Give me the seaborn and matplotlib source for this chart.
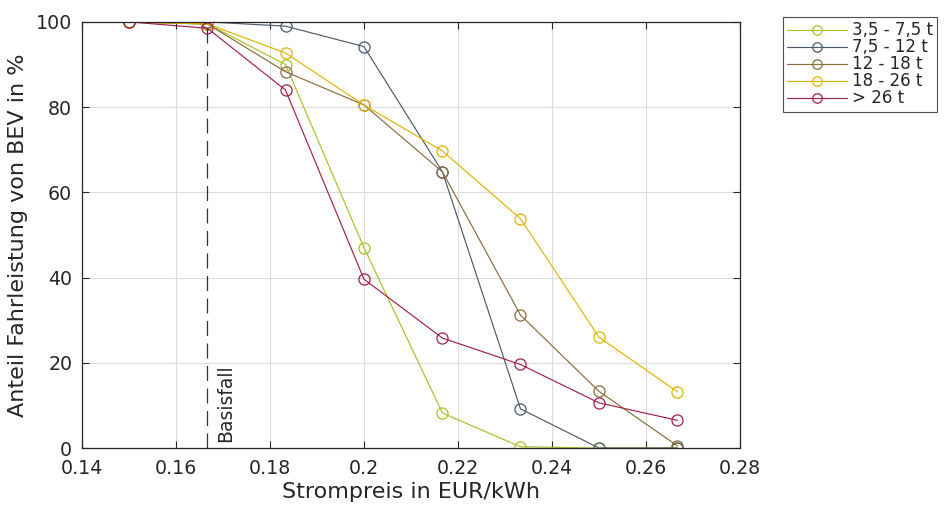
import numpy as np
import pandas as pd
import matplotlib
matplotlib.use("Agg")
import matplotlib.pyplot as plt
import matplotlib.transforms as mtransforms
import seaborn as sns

# Electricity price steps (EUR/kWh)
strompreis = [0.15, 0.1667, 0.1833, 0.2, 0.2167, 0.2333, 0.25, 0.2667]

# Share of BEV mileage per weight class (%)
klasse_3_5 = [100, 99.5, 90.0, 47.0, 8.2, 0.3, 0.0, 0.0]
klasse_7_5 = [100, 100, 99.0, 94.2, 64.8, 9.2, 0.0, 0.0]
klasse_12 = [100, 99.5, 88.3, 80.5, 64.8, 31.2, 13.3, 0.5]
klasse_18 = [100, 99.5, 92.7, 80.5, 69.7, 53.8, 26.0, 13.2]
klasse_26 = [100, 98.5, 84.0, 39.6, 25.8, 19.6, 10.6, 6.5]

labels = ["3,5 - 7,5 t", "7,5 - 12 t", "12 - 18 t", "18 - 26 t", "> 26 t"]
series = [klasse_3_5, klasse_7_5, klasse_12, klasse_18, klasse_26]
colors = ["#a9c224", "#4d5a6e", "#8b6c3c", "#e2b400", "#a3214a"]

basisfall = 0.1667

df = pd.concat(
    [pd.DataFrame({"Strompreis": strompreis, "Anteil": vals, "Klasse": lab})
     for lab, vals in zip(labels, series)],
    ignore_index=True,
)

sns.set_theme(style="whitegrid")
plt.rcParams["font.family"] = ["DejaVu Sans"]

fig = plt.figure(figsize=(9.46, 5.09), dpi=100)
ax = fig.add_axes([0.0867, 0.1198, 0.6955, 0.8372])

for lab, col in zip(labels, colors):
    sub = df[df["Klasse"] == lab]
    sns.lineplot(data=sub, x="Strompreis", y="Anteil", ax=ax, color=col,
                 marker="o", markersize=8, markerfacecolor="none",
                 markeredgecolor=col, markeredgewidth=0.9, linewidth=0.85,
                 label=lab)

ax.axvline(basisfall, color="#333333", linestyle=(0, (12, 6)), linewidth=0.9)
offset = mtransforms.offset_copy(ax.transData, fig=fig, x=9, y=0, units="dots")
ax.text(basisfall, 1.5, "Basisfall", rotation=90, ha="left", va="bottom",
        fontsize=13.5, color="#262626", transform=offset)

ax.set_xlim(0.14, 0.28)
ax.set_ylim(0, 100)
ax.set_xticks(np.arange(0.14, 0.2801, 0.02))
ax.set_xticklabels(["0.14", "0.16", "0.18", "0.2", "0.22", "0.24", "0.26", "0.28"])
ax.set_yticks([0, 20, 40, 60, 80, 100])
ax.tick_params(axis="both", which="both", direction="in", length=5, width=0.8,
               labelsize=13.7, colors="#262626", top=True, right=True,
               bottom=True, left=True)
ax.tick_params(axis="x", pad=8)
ax.tick_params(axis="y", pad=7)
ax.grid(True, color="#dcdcdc", linewidth=0.8)
for sp in ax.spines.values():
    sp.set_edgecolor("#262626")
    sp.set_linewidth(0.9)

ax.set_xlabel("Strompreis in EUR/kWh", fontsize=16, color="#262626", labelpad=3)
ax.set_ylabel("Anteil Fahrleistung von BEV in %", fontsize=16, color="#262626", labelpad=6)

leg = ax.legend(loc="upper left", bbox_to_anchor=(0.8277, 0.966),
                bbox_transform=fig.transFigure, frameon=True, fancybox=False,
                fontsize=12, handlelength=3.6, handletextpad=0.3,
                labelspacing=-0.06, borderpad=0.25, borderaxespad=0,
                markerscale=0.85)
leg.get_frame().set_edgecolor("#262626")
leg.get_frame().set_linewidth(0.8)

fig.savefig("out.png", dpi=100, facecolor="white")
